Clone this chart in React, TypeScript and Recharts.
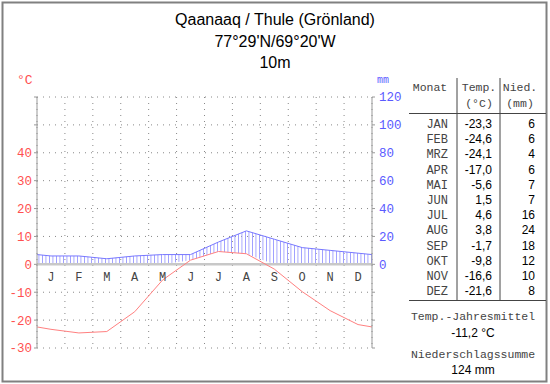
import React from "react"
import {
  ComposedChart,
  Line,
  Area,
  Scatter,
  XAxis,
  YAxis,
  CartesianGrid,
  ReferenceLine,
} from "recharts"

// Qaanaaq / Thule climate normals
const monthLetters = ["J", "F", "M", "A", "M", "J", "J", "A", "S", "O", "N", "D"]
const monthNames = ["JAN", "FEB", "MRZ", "APR", "MAI", "JUN", "JUL", "AUG", "SEP", "OKT", "NOV", "DEZ"]
const temps = [-23.3, -24.6, -24.1, -17.0, -5.6, 1.5, 4.6, 3.8, -1.7, -9.8, -16.6, -21.6]
const precip = [6, 6, 4, 6, 7, 7, 16, 24, 18, 12, 10, 8]
const tempTicks = [-30, -20, -10, 0, 10, 20, 30, 40, 50, 60]
const precipTicks = [-60, -40, -20, 0, 20, 40, 60, 80, 100, 120]
const monthTicks = [0, 1, 2, 3, 4, 5, 6, 7, 8, 9, 10, 11, 12]

const MONO = "'Liberation Mono', monospace"
const SANS = "'Liberation Sans', Arial, sans-serif"

const fmt = (v: number) => v.toFixed(1).replace(".", ",")

// curves run from the left edge to the right edge, wrapping dec -> jan
const edgeT = (temps[0] + temps[11]) / 2
const edgeP = (precip[0] + precip[11]) / 2
const data = [
  { x: 0, t: edgeT, p: edgeP },
  ...temps.map((t, i) => ({ x: i + 0.5, t, p: precip[i] })),
  { x: 12, t: edgeT, p: edgeP },
]
const monthMarks = monthLetters.map((m, i) => ({ x: i + 0.5, y: 0, label: m }))

const meanTemp = temps.reduce((a, b) => a + b, 0) / temps.length
const sumPrecip = precip.reduce((a, b) => a + b, 0)

const MonthLabel = (props: any) => (
  <text
    x={props.cx}
    y={props.cy + 17}
    textAnchor="middle"
    fontFamily={MONO}
    fontSize={12}
    fill="#444"
  >
    {props.payload.label}
  </text>
)

const Table = () => {
  const rowY = (i: number) => 128 + i * 15.2
  return (
    <g>
      <text x={430} y={91} textAnchor="middle" fontFamily={MONO} fontSize={11.5} fill="#444">Monat</text>
      <text x={479} y={91} textAnchor="middle" fontFamily={MONO} fontSize={11.5} fill="#444">Temp.</text>
      <text x={479} y={107} textAnchor="middle" fontFamily={MONO} fontSize={11.5} fill="#444">(°C)</text>
      <text x={520} y={91} textAnchor="middle" fontFamily={MONO} fontSize={11.5} fill="#444">Nied.</text>
      <text x={520} y={107} textAnchor="middle" fontFamily={MONO} fontSize={11.5} fill="#444">(mm)</text>
      <line x1={457} y1={78} x2={457} y2={300} stroke="#444" />
      <line x1={500} y1={78} x2={500} y2={300} stroke="#444" />
      <line x1={409} y1={113.5} x2={546} y2={113.5} stroke="#444" />
      <line x1={409} y1={300.5} x2={546} y2={300.5} stroke="#444" />
      {monthNames.map((m, i) => (
        <g key={m}>
          <text x={448} y={rowY(i)} textAnchor="end" fontFamily={MONO} fontSize={12} fill="#444">{m}</text>
          <text x={492} y={rowY(i)} textAnchor="end" fontFamily={SANS} fontSize={12} fill="#000">{fmt(temps[i])}</text>
          <text x={535} y={rowY(i)} textAnchor="end" fontFamily={SANS} fontSize={12} fill="#000">{precip[i]}</text>
        </g>
      ))}
      <text x={473} y={320} textAnchor="middle" fontFamily={MONO} fontSize={11.5} fill="#444">Temp.-Jahresmittel</text>
      <text x={473} y={337} textAnchor="middle" fontFamily={SANS} fontSize={12} fill="#000">{fmt(meanTemp)} °C</text>
      <text x={473} y={358} textAnchor="middle" fontFamily={MONO} fontSize={11.5} fill="#444">Niederschlagssumme</text>
      <text x={473} y={374} textAnchor="middle" fontFamily={SANS} fontSize={12} fill="#000">{sumPrecip} mm</text>
    </g>
  )
}

export default function App() {
  return (
    <div style={{ position: "absolute", left: 0, top: 0, width: 550, height: 384, background: "#fff" }}>
      <div style={{ position: "absolute", left: 0, top: 0 }}>
        <ComposedChart
          width={550}
          height={384}
          data={data}
          margin={{ top: 97, right: 0, bottom: 36, left: 0 }}
        >
          <defs>
            <pattern id="hatch" patternUnits="userSpaceOnUse" width={3.5} height={8}>
              <rect x={0} y={0} width={1} height={8} fill="#9a9aff" shapeRendering="crispEdges" />
            </pattern>
          </defs>
          <CartesianGrid
            yAxisId="left"
            stroke="#888"
            strokeDasharray="1 5"
            vertical
            horizontal
          />
          <XAxis dataKey="x" type="number" domain={[0, 12]} ticks={monthTicks} hide allowDataOverflow />
          <YAxis
            yAxisId="left"
            type="number"
            domain={[-30, 60]}
            ticks={tempTicks}
            width={37}
            interval={0}
            stroke="#999"
            tickSize={3}
            tickMargin={2}
            tickFormatter={(v: number) => (v <= 40 ? String(v) : "")}
            tick={{ fill: "#ff5050", fontFamily: MONO, fontSize: 12.5 }}
          />
          <YAxis
            yAxisId="right"
            orientation="right"
            type="number"
            domain={[-60, 120]}
            ticks={precipTicks}
            width={178}
            interval={0}
            stroke="#999"
            tickSize={3}
            tickMargin={4}
            tickFormatter={(v: number) => (v >= 0 ? String(v) : "")}
            tick={{ fill: "#5a5aff", fontFamily: MONO, fontSize: 12.5 }}
          />
          <Area
            yAxisId="right"
            type="linear"
            dataKey={(d: any) => [Math.max(d.t * 2, 0), d.p]}
            stroke="none"
            fill="url(#hatch)"
            fillOpacity={1}
            isAnimationActive={false}
          />
          <ReferenceLine yAxisId="left" y={0} stroke="#c8c8c8" strokeWidth={2.5} />
          <Line
            yAxisId="right"
            type="linear"
            dataKey="p"
            stroke="#7878ff"
            strokeWidth={1}
            dot={false}
            isAnimationActive={false}
          />
          <Line
            yAxisId="left"
            type="linear"
            dataKey="t"
            stroke="#ff8080"
            strokeWidth={1}
            dot={false}
            isAnimationActive={false}
          />
          <Scatter
            yAxisId="left"
            data={monthMarks}
            dataKey="y"
            shape={MonthLabel}
            isAnimationActive={false}
          />
        </ComposedChart>
      </div>
      <svg
        width={550}
        height={384}
        style={{ position: "absolute", left: 0, top: 0, pointerEvents: "none" }}
      >
        <rect x={2.5} y={2.5} width={544} height={379} fill="none" stroke="#808080" strokeWidth={2} />
        <text x={275} y={25} textAnchor="middle" fontFamily={SANS} fontSize={16} fill="#000">
          Qaanaaq / Thule (Grönland)
        </text>
        <text x={275} y={47} textAnchor="middle" fontFamily={SANS} fontSize={16} fill="#000">
          77°29'N/69°20'W
        </text>
        <text x={275} y={68} textAnchor="middle" fontFamily={SANS} fontSize={16} fill="#000">
          10m
        </text>
        <text x={17} y={84} fontFamily={MONO} fontSize={13} fill="#ff5050">°C</text>
        <text x={377} y={83} fontFamily={MONO} fontSize={10} fill="#5a5aff">mm</text>
        <Table />
      </svg>
    </div>
  )
}
